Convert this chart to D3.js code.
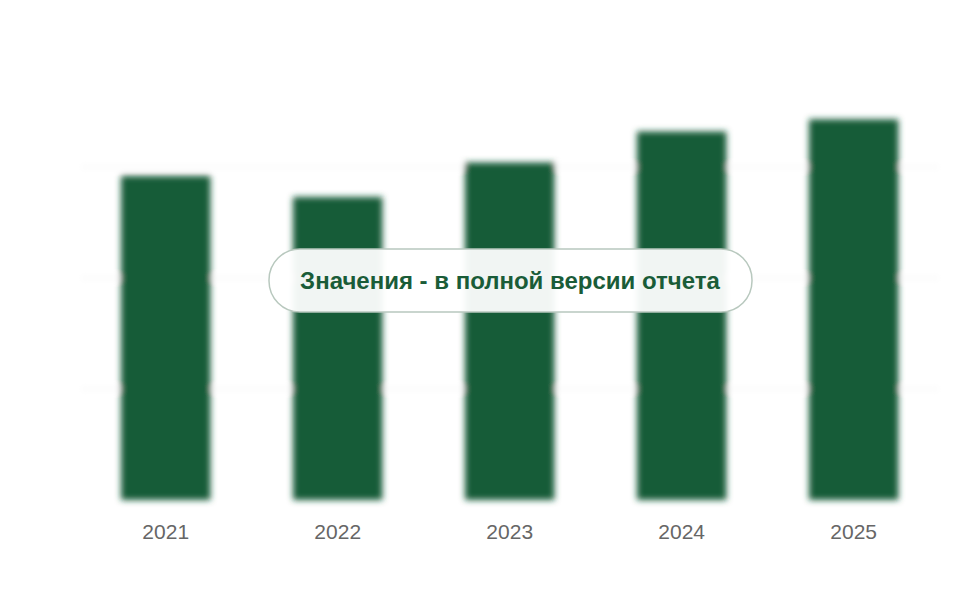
<!DOCTYPE html>
<html><head><meta charset="utf-8">
<script src="https://cdn.jsdelivr.net/npm/d3@7"></script>
<style>body{margin:0;background:#fff}</style>
</head><body>
<svg id="c" width="960" height="600"></svg>
<script>
const years = ["2021","2022","2023","2024","2025"];
const values = [292, 273, 304, 332, 343];
const gridTicks = [100, 200, 300];
const overlayText = "Значения - в полной версии отчета";

const svg = d3.select("#c");
const x = d3.scaleBand().domain(years).range([121, 898.4]).paddingInner(0.48).paddingOuter(0);
const y = d3.scaleLinear().domain([0, 400]).range([500, 56]);

const defs = svg.append("defs");
defs.append("filter").attr("id","blur").attr("x","-20%").attr("y","-20%").attr("width","140%").attr("height","140%")
  .append("feGaussianBlur").attr("stdDeviation", 3);

const g = svg.append("g").attr("filter","url(#blur)");
g.selectAll("line.grid").data(gridTicks).join("line")
  .attr("x1", 80).attr("x2", 940)
  .attr("y1", d => y(d)).attr("y2", d => y(d))
  .attr("stroke", "#f6f6f6").attr("stroke-width", 2);
g.selectAll("rect").data(years).join("rect")
  .attr("x", d => x(d)).attr("width", x.bandwidth())
  .attr("y", (d,i) => y(values[i])).attr("height", (d,i) => y(0) - y(values[i]))
  .attr("fill", "#165c38");

svg.append("g").attr("transform","translate(0,500)")
  .call(d3.axisBottom(x).tickSize(0).tickPadding(24))
  .call(a => a.select(".domain").remove())
  .selectAll("text").attr("font-family","Liberation Sans, Arial, sans-serif")
  .attr("font-size", 21).attr("fill", "#666");

svg.append("rect").attr("x", 269).attr("y", 249).attr("width", 483).attr("height", 63)
  .attr("rx", 31).attr("fill", "rgba(255,255,255,0.94)").attr("stroke", "#b8c8be").attr("stroke-width", 1.5);
svg.append("text").attr("x", 510).attr("y", 289).attr("text-anchor","middle")
  .attr("font-family","Liberation Sans, Arial, sans-serif").attr("font-weight","bold")
  .attr("font-size", 24).attr("fill", "#1a5c38").text(overlayText);
</script>
</body></html>
